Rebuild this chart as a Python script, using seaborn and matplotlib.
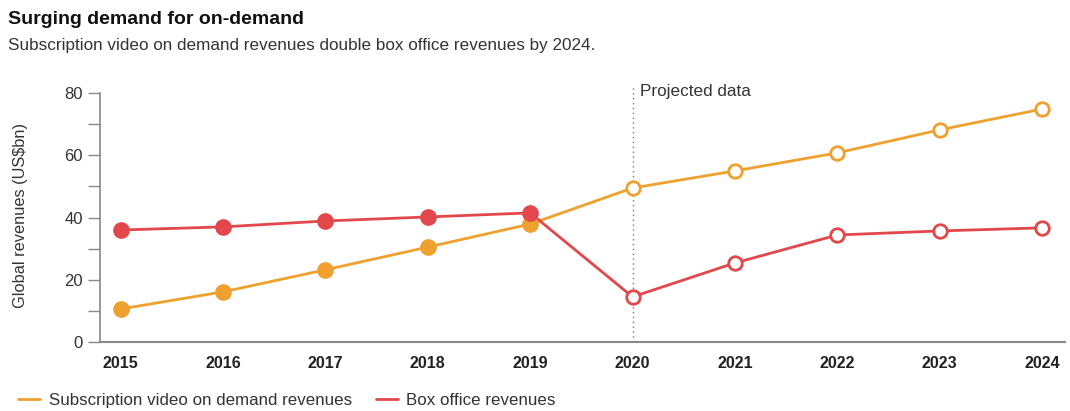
import matplotlib
matplotlib.use("Agg")
import matplotlib.pyplot as plt
import seaborn as sns
import pandas as pd
from matplotlib.lines import Line2D

years = [2015, 2016, 2017, 2018, 2019, 2020, 2021, 2022, 2023, 2024]
svod = [10.6, 16.1, 23.2, 30.5, 37.9, 49.5, 55.0, 60.8, 68.2, 74.9]
box_office = [36.0, 37.0, 38.9, 40.2, 41.5, 14.5, 25.4, 34.4, 35.7, 36.7]
projected_from = 2020
y_ticks = [0, 20, 40, 60, 80]
series_names = ["Subscription video on demand revenues", "Box office revenues"]
colors = ["#F0A02E", "#E2474B"]

sns.set_theme(style="white")
plt.rcParams['font.family'] = ['Liberation Sans', 'DejaVu Sans']

df = pd.DataFrame({
    "year": years * 2,
    "value": svod + box_office,
    "series": [series_names[0]] * len(years) + [series_names[1]] * len(years),
})
df["projected"] = df["year"] >= projected_from

fig = plt.figure(figsize=(10.7, 4.11), dpi=100)
ax = fig.add_axes([0.0935, 0.168, 0.9015, 0.628])

palette = dict(zip(series_names, colors))
sns.lineplot(data=df, x="year", y="value", hue="series", palette=palette,
             linewidth=2, ax=ax, legend=False, zorder=2)

for name, col in palette.items():
    hist = df[(df.series == name) & (~df.projected)]
    proj = df[(df.series == name) & (df.projected)]
    sns.scatterplot(data=hist, x="year", y="value", color=col, s=110,
                    edgecolor=col, linewidth=1.5, ax=ax, zorder=3, legend=False)
    sns.scatterplot(data=proj, x="year", y="value", color="white", s=95,
                    edgecolor=col, linewidth=2, ax=ax, zorder=3, legend=False)

ax.set_xlim(2014.8, 2024.22)
ax.set_ylim(0, 83)
ax.plot([projected_from, projected_from], [0, 82.5], linestyle=(0, (1, 2.5)),
        color="#777777", linewidth=1, zorder=1)
ax.text(projected_from + 0.07, 80.5, "Projected data", fontsize=12.3,
        color="#333333", va="center", ha="left")

for s in ["top", "right"]:
    ax.spines[s].set_visible(False)
ax.spines["left"].set_bounds(0, 80)
ax.spines["left"].set_color("#888888")
ax.spines["bottom"].set_color("#888888")
ax.spines["left"].set_linewidth(1.2)
ax.spines["bottom"].set_linewidth(1.5)

ax.set_yticks(y_ticks)
ax.set_yticks([10, 30, 50, 70], minor=True)
ax.set_xticks(years)
ax.set_xticklabels([str(y) for y in years], fontweight="bold", fontsize=11.5, color="#222222")
ax.tick_params(axis="y", which="both", left=True, length=8.5, width=1, color="#888888",
               labelsize=12, labelcolor="#333333", pad=4)
ax.tick_params(axis="x", bottom=False, pad=4)
ax.set_xlabel("")
ax.set_ylabel("Global revenues (US\\$bn)", fontsize=11.8, color="#333333")
ax.yaxis.set_label_coords(-0.075, 0.488)

fig.text(0.0075, 0.953, "Surging demand for on-demand", fontsize=14,
         fontweight="bold", color="#111111", va="center")
fig.text(0.0075, 0.89, "Subscription video on demand revenues double box office revenues by 2024.",
         fontsize=12.3, color="#333333", va="center")

handles = [Line2D([0], [0], color=c, linewidth=2) for c in colors]
fig.legend(handles, series_names, loc="lower left", bbox_to_anchor=(0.003, -0.03),
           ncol=2, frameon=False, fontsize=12.2, handlelength=1.3, handletextpad=0.5,
           columnspacing=1.4, labelcolor="#333333")

fig.savefig("out.png", dpi=100)
